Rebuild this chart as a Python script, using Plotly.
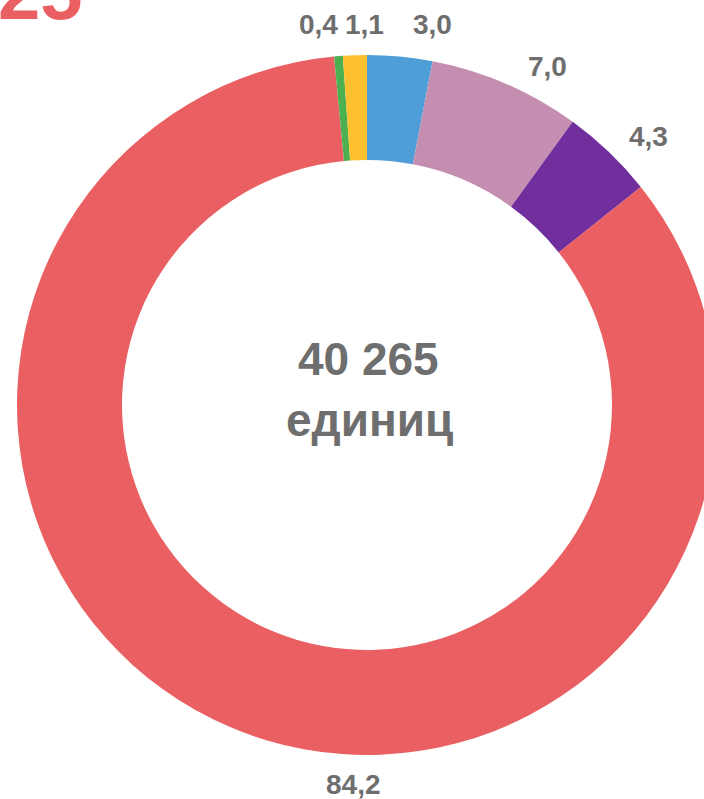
import plotly.graph_objects as go

# ---- data ----
categories = ["A", "B", "C", "D", "E", "F"]
shares = [3.0, 7.0, 4.3, 84.2, 0.4, 1.1]
total_units = "40 265"
units_word = "единиц"
big_number = "25"

# ---- styles ----
colors = ["#4F9ED8", "#C48EB0", "#712F9E", "#EA5F61", "#4CAF50", "#FDC02F"]
grey = "#6E6E6E"
FONT = "Liberation Sans, Arial, sans-serif"

W, H = 734, 799
def px(x, y):
    return x / W, 1 - y / H

# label centers (pixels) as laid out in the reference
label_pos = [(432, 25), (547, 66), (648, 136), (353, 784), (318, 25), (364, 25)]

fig = go.Figure(go.Pie(
    labels=categories,
    values=shares,
    hole=0.7,
    sort=False,
    direction="clockwise",
    rotation=0,
    textinfo="none",
    hoverinfo="skip",
    marker=dict(colors=colors, line=dict(width=0)),
    domain=dict(x=[17 / W, 717 / W], y=[1 - 755 / H, 1 - 55 / H]),
    showlegend=False,
))

annotations = []
for v, (lx, ly) in zip(shares, label_pos):
    x, y = px(lx, ly)
    annotations.append(dict(
        x=x, y=y, xref="paper", yref="paper", xanchor="center", yanchor="middle",
        text="<b>" + f"{v:.1f}".replace(".", ",") + "</b>", showarrow=False,
        font=dict(family=FONT, size=28, color=grey),
    ))

cx, cy = px(368, 359)
annotations.append(dict(x=cx, y=cy, xref="paper", yref="paper", xanchor="center", yanchor="middle",
                        text="<b>" + total_units + "</b>", showarrow=False,
                        font=dict(family=FONT, size=46, color=grey)))
cx, cy = px(369, 420)
annotations.append(dict(x=cx, y=cy, xref="paper", yref="paper", xanchor="center", yanchor="middle",
                        text="<b>" + units_word + "</b>", showarrow=False,
                        font=dict(family=FONT, size=46, color=grey)))
bx, by = px(-4, -8)
annotations.append(dict(x=bx, y=by, xref="paper", yref="paper", xanchor="left", yanchor="middle",
                        text="<b>" + big_number + "</b>", showarrow=False,
                        font=dict(family=FONT, size=76, color="#EA5F61")))

fig.update_layout(
    width=W, height=H,
    margin=dict(l=0, r=0, t=0, b=0),
    paper_bgcolor="white", plot_bgcolor="white",
    annotations=annotations,
)

fig.write_html("out.html", config={"displayModeBar": False},
               post_script="document.body.style.margin='0';document.body.style.overflow='hidden';")
